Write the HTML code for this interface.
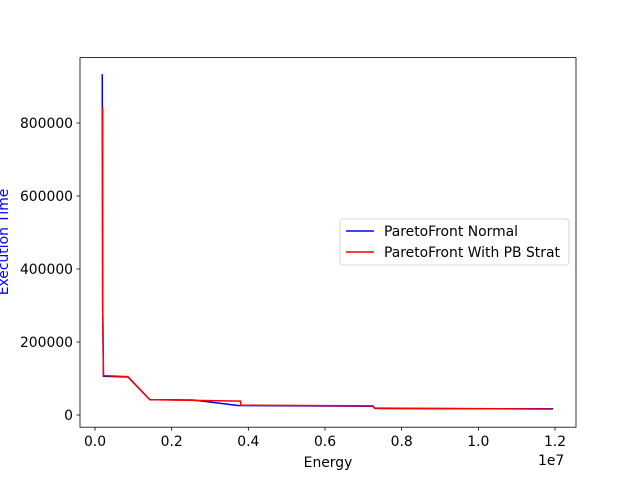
<!DOCTYPE html>
<html><head><meta charset="utf-8"><style>
body{margin:0;background:#fff;}
svg text{font-family:"DejaVu Sans","Liberation Sans",sans-serif;font-size:13.9px;}
</style></head><body>
<svg id="chart" width="640" height="480">
<rect width="640" height="480" fill="#fff"/>
<g id="marks"></g>
<rect x="80" y="57.6" width="496" height="369.6" fill="none" stroke="#000" stroke-width="0.8"/>
<g id="axes"></g>
<text x="328" y="467" text-anchor="middle">Energy</text>
<text x="538" y="465">1e7</text>
<text transform="translate(8,242) rotate(-90)" text-anchor="middle" fill="blue">Execution Time</text>
<g>
<rect x="340" y="219" width="229" height="46" rx="3" fill="#fff" stroke="#ccc" stroke-width="0.8"/>
<line x1="346" y1="231" x2="374" y2="231" stroke="blue" stroke-width="1.5"/>
<text x="384" y="236">ParetoFront Normal</text>
<line x1="346" y1="252" x2="374" y2="252" stroke="red" stroke-width="1.5"/>
<text x="384" y="257">ParetoFront With PB Strat</text>
</g>
</svg>
<script>
const xTicks=[0,0.2,0.4,0.6,0.8,1.0,1.2];
const yTicks=[0,200000,400000,600000,800000];
const normalX=[0.19e6,0.19e6,0.2e6,0.22e6,0.86e6,1.43e6,2.56e6,3.73e6,7.25e6,7.3e6,11.95e6];
const normalY=[934000,850000,300000,106000,104000,42000,41000,26000,24000,18000,17000];
const pbX=[0.2e6,0.2e6,0.22e6,0.86e6,1.43e6,2.56e6,3.8e6,3.8e6,7.25e6,7.3e6,11.9e6];
const pbY=[844000,300000,108000,105000,42000,40000,38000,27000,25000,19000,16000];
const xs=v=>95+(v/1e7)*(460/1.2);
const ys=v=>415-v*0.000365;
const NS="http://www.w3.org/2000/svg";
const axes=document.getElementById('axes');
xTicks.forEach(t=>{
 const x=xs(t*1e7);
 const l=document.createElementNS(NS,'line');
 l.setAttribute('x1',x);l.setAttribute('x2',x);l.setAttribute('y1',427.2);l.setAttribute('y2',430.7);l.setAttribute('stroke','#000');l.setAttribute('stroke-width','0.8');
 
 
 axes.appendChild(l);
 const tx=document.createElementNS(NS,'text');
 tx.setAttribute('x',x);tx.setAttribute('y',446);tx.setAttribute('text-anchor','middle');tx.textContent=t.toFixed(1);
 
 
 axes.appendChild(tx);
});
yTicks.forEach(t=>{
 const y=ys(t);
 const l=document.createElementNS(NS,'line');
 l.setAttribute('x1',76.5);l.setAttribute('x2',80);l.setAttribute('y1',y);l.setAttribute('y2',y);l.setAttribute('stroke','#000');l.setAttribute('stroke-width','0.8');
 
 
 axes.appendChild(l);
 const tx=document.createElementNS(NS,'text');
 tx.setAttribute('x',73);tx.setAttribute('y',y+5);tx.setAttribute('text-anchor','end');tx.textContent=String(t);
 
 
 axes.appendChild(tx);
});
const marks=document.getElementById('marks');
function draw(X,Y,c,name){
 const p=document.createElementNS(NS,'polyline');
 p.setAttribute('points',X.map((x,i)=>xs(x)+','+ys(Y[i])).join(' '));
 p.setAttribute('fill','none');p.setAttribute('stroke',c);p.setAttribute('stroke-width','1.5');
 
 
 marks.appendChild(p);
}
draw(normalX,normalY,'blue','series-normal');
draw(pbX,pbY,'red','series-pb-strat');
</script>
</body></html>
